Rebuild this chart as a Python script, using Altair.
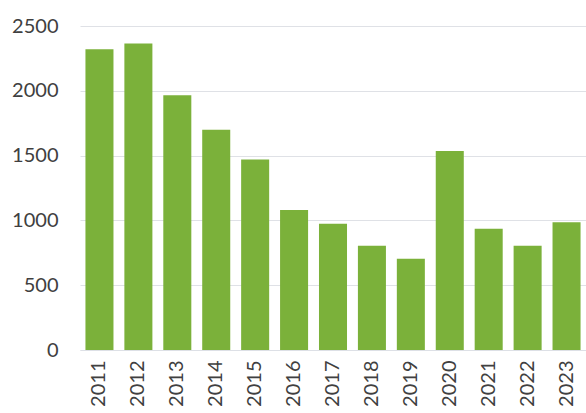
import altair as alt
import pandas as pd

years = ["2011", "2012", "2013", "2014", "2015", "2016", "2017", "2018", "2019", "2020", "2021", "2022", "2023"]
values = [2320, 2365, 1965, 1700, 1470, 1080, 975, 805, 705, 1535, 935, 805, 985]

df = pd.DataFrame({"year": years, "value": values})

chart = alt.Chart(df).mark_bar(color="#7bb13a").encode(
    x=alt.X("year:N", sort=years, title=None,
            scale=alt.Scale(paddingInner=0.28, paddingOuter=0.14),
            axis=alt.Axis(labelAngle=-90, labelFontSize=20, labelFont="Lato",
                          labelColor="#404040", labelPadding=10, ticks=False,
                          domainColor="#dde0e6", labelBaseline="middle", labelAlign="right")),
    y=alt.Y("value:Q", title=None,
            scale=alt.Scale(domain=[0, 2500], nice=False),
            axis=alt.Axis(values=[0, 500, 1000, 1500, 2000, 2500], format="d", labelFontSize=20,
                          labelFont="Lato", labelColor="#404040", labelPadding=22,
                          ticks=False, domain=False, gridColor="#dfe1e6", grid=True)),
).properties(
    width=506, height=324,
    autosize=alt.AutoSizeParams(type="none"),
    padding={"left": 80, "top": 26, "right": 0, "bottom": 63},
).configure_view(stroke=None)

chart.save("out.html", embed_options={"renderer": "svg", "actions": False})
